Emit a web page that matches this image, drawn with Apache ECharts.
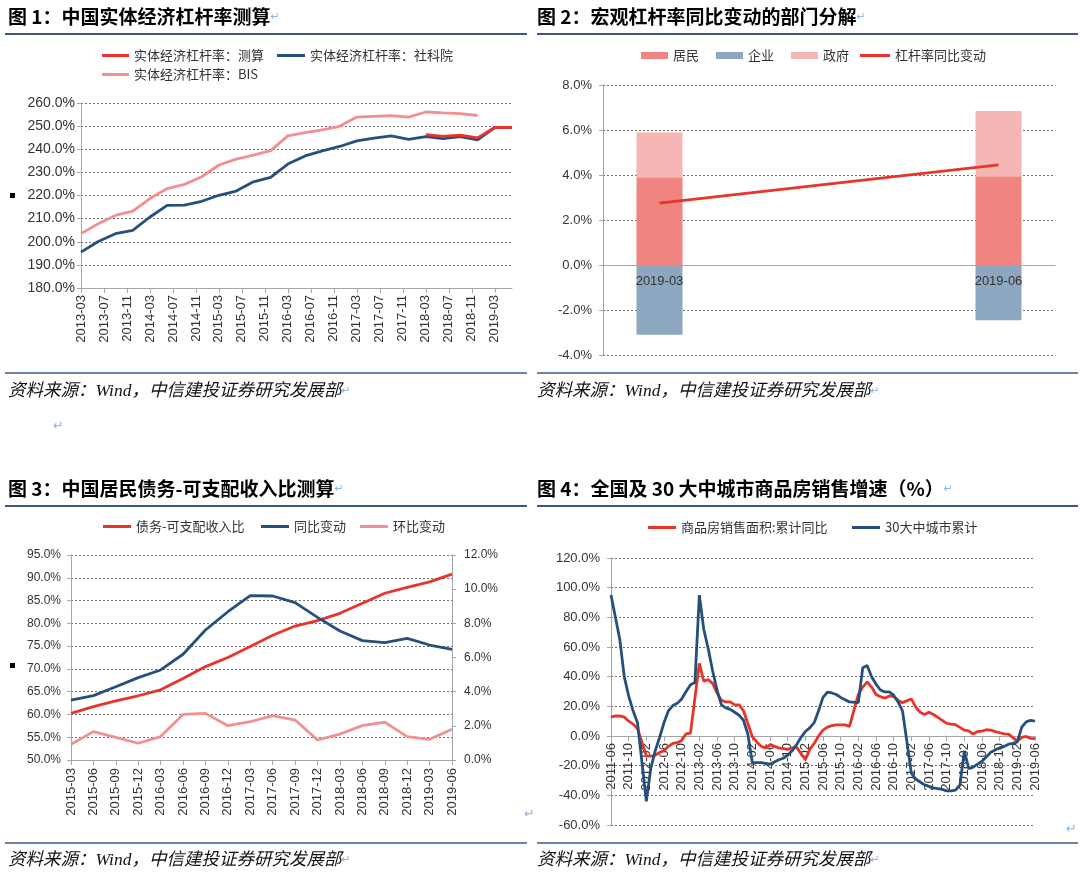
<!DOCTYPE html>
<html><head><meta charset="utf-8">
<script src="https://cdn.jsdelivr.net/npm/echarts@6/dist/echarts.min.js"></script>
<style>html,body{margin:0;padding:0;background:#fff}#c{width:1080px;height:875px}</style>
</head><body><div id="c"></div>
<script>
// ---------- Chart 1 data ----------
const c1Months = [
 '2013-03','2013-04','2013-05','2013-06','2013-07','2013-08','2013-09','2013-10','2013-11','2013-12',
 '2014-01','2014-02','2014-03','2014-04','2014-05','2014-06','2014-07','2014-08','2014-09','2014-10','2014-11','2014-12',
 '2015-01','2015-02','2015-03','2015-04','2015-05','2015-06','2015-07','2015-08','2015-09','2015-10','2015-11','2015-12',
 '2016-01','2016-02','2016-03','2016-04','2016-05','2016-06','2016-07','2016-08','2016-09','2016-10','2016-11','2016-12',
 '2017-01','2017-02','2017-03','2017-04','2017-05','2017-06','2017-07','2017-08','2017-09','2017-10','2017-11','2017-12',
 '2018-01','2018-02','2018-03','2018-04','2018-05','2018-06','2018-07','2018-08','2018-09','2018-10','2018-11','2018-12',
 '2019-01','2019-02','2019-03','2019-04','2019-05','2019-06'];
const c1Quarters = ['2013-03','2013-06','2013-09','2013-12','2014-03','2014-06','2014-09','2014-12',
 '2015-03','2015-06','2015-09','2015-12','2016-03','2016-06','2016-09','2016-12',
 '2017-03','2017-06','2017-09','2017-12','2018-03','2018-06','2018-09','2018-12','2019-03','2019-06'];
const c1Bis = [203.5,207.8,211.4,213.2,218.7,223.0,224.8,228.1,233.2,235.7,237.5,239.4,
 245.8,247.2,248.4,249.9,253.9,254.2,254.5,253.9,256.1,255.7,255.4,254.6];
const c1Cass = [195.5,200.1,203.5,204.9,210.7,215.7,215.8,217.5,220.1,221.9,225.9,227.8,
 233.6,237.1,239.3,241.2,243.6,244.8,245.8,244.3,245.5,244.6,245.5,244.1,249.4,249.5];
const c1EstQuarters = ['2018-03','2018-06','2018-09','2018-12','2019-03','2019-06'];
const c1Est = [246.3,245.6,246.1,244.9,249.4,249.5];

// ---------- Chart 2 data ----------
const c2Cats = ['2019-03','2019-04','2019-05','2019-06'];
const c2Resident = [3.9, null, null, 3.95];
const c2Corporate = [-3.1, null, null, -2.45];
const c2Government = [2.0, null, null, 2.9];
const c2Total = [2.75, null, null, 4.45];

// ---------- Chart 3 data ----------
const c3Quarters = ['2015-03','2015-06','2015-09','2015-12','2016-03','2016-06','2016-09','2016-12',
 '2017-03','2017-06','2017-09','2017-12','2018-03','2018-06','2018-09','2018-12','2019-03','2019-06'];
const c3Ratio = [60.25,61.7,63.0,64.1,65.4,67.9,70.5,72.5,74.9,77.4,79.4,80.6,82.2,84.4,86.6,87.9,89.1,90.8];
const c3Yoy = [3.51,3.77,4.29,4.82,5.27,6.19,7.61,8.68,9.62,9.60,9.21,8.35,7.55,6.99,6.87,7.12,6.73,6.48];
const c3Qoq = [0.92,1.66,1.33,0.98,1.37,2.67,2.73,2.01,2.24,2.60,2.34,1.17,1.52,2.01,2.22,1.37,1.21,1.80];

// ---------- Chart 4 data ----------
const c4Months = [
 '2011-06','2011-07','2011-08','2011-09','2011-10','2011-11','2011-12',
 '2012-01','2012-02','2012-03','2012-04','2012-05','2012-06','2012-07','2012-08','2012-09','2012-10','2012-11','2012-12',
 '2013-01','2013-02','2013-03','2013-04','2013-05','2013-06','2013-07','2013-08','2013-09','2013-10','2013-11','2013-12',
 '2014-01','2014-02','2014-03','2014-04','2014-05','2014-06','2014-07','2014-08','2014-09','2014-10','2014-11','2014-12',
 '2015-01','2015-02','2015-03','2015-04','2015-05','2015-06','2015-07','2015-08','2015-09','2015-10','2015-11','2015-12',
 '2016-01','2016-02','2016-03','2016-04','2016-05','2016-06','2016-07','2016-08','2016-09','2016-10','2016-11','2016-12',
 '2017-01','2017-02','2017-03','2017-04','2017-05','2017-06','2017-07','2017-08','2017-09','2017-10','2017-11','2017-12',
 '2018-01','2018-02','2018-03','2018-04','2018-05','2018-06','2018-07','2018-08','2018-09','2018-10','2018-11','2018-12',
 '2019-01','2019-02','2019-03','2019-04','2019-05','2019-06'];
const c4National = [
 12.8,13.5,13.5,12.8,10,8,5,
 null,-13.5,-13.5,-13,-11,-10,-7,-5,-4.5,-3,1.5,2,
 null,49,37,38,35.5,29,24,23,23,21,21,17,
 null,-0.5,-4,-7,-8,-6,-7,-8,-8.5,-9,-8,-7.5,
 null,-16,-9,-5,0,4,6,7,7.5,7.5,7.5,6.5,
 null,28,33,36.5,33,28,26.5,25.5,27,26.5,24,22.5,
 null,25,19.5,16,14.5,16,14.5,12.5,10.5,8.5,8,7.7,
 null,4,3.5,1.3,3,3.3,4.2,4,3,2.2,1.4,1.3,
 null,-3.5,-1,-0.3,-1.6,-1.8];
const c4Cities30 = [
 95,80,65,40,27,17,9,
 null,-44,-22,-10,-1,9,17,20.5,22,25,30,34.5,
 36,95,72,59,44,31,21,19,18,16,14,10.6,
 1,-18,-18,-18,-18.5,-19,-17.5,-16,-15,-13,-10,-6,
 -1,3,5.5,9,17,26,29.5,29,28,26,24.5,23,
 null,22.5,46,47.5,40,35,31,29.7,29.7,27.5,23,17,
 null,-25,-29,-31,-33,-34,-35,-35.5,-36,-37,-37,-36.5,
 -33,-10,-22,-21,-19,-17,-14,-11,-9.5,-8,-7,-5.5,
 -5,-4,6,9.5,10.5,10];

// ---------- styles ----------
const CJK = '"Noto Sans CJK SC", sans-serif';
const LAT = '"Liberation Sans", Arial, sans-serif';
const RED = '#E8342B', BLUE = '#25507C', PINK = '#F2908F';
const AXIS = '#a6a6a6', TXT = '#333', GRID = '#6e6e6e';
const pct = v => v.toFixed(1) + '%';
const pairs = (cats, vals) => cats.map((c, i) => [c, vals[i]]);

const grids = [
  {left: 81, top: 103, width: 431, height: 185},
  {left: 603, top: 85, width: 452, height: 270},
  {left: 71, top: 555, width: 381, height: 205},
  {left: 611, top: 558, width: 424, height: 267}
];
// distance (px) from grid bottom up to the zero line, for axes that cross at zero
const zeroLift = (g, min, max) => grids[g].height * (0 - min) / (max - min);

function yAx(grid, min, max, step, fs, margin, extra) {
  return Object.assign({
    type: 'value', gridIndex: grid, min: min, max: max, interval: step,
    axisLine: {show: true, lineStyle: {color: AXIS}},
    axisTick: {show: true, length: 4, lineStyle: {color: AXIS}},
    axisLabel: {formatter: pct, fontSize: fs, color: TXT, fontFamily: LAT, margin: margin},
    splitLine: {show: true, lineStyle: {color: GRID, type: [2, 2], width: 1}}
  }, extra || {});
}
function xAx(grid, cats, extra) {
  return Object.assign({
    type: 'category', gridIndex: grid, data: cats, boundaryGap: false,
    axisLine: {show: true, onZero: false, lineStyle: {color: AXIS}},
    splitLine: {show: false}
  }, extra);
}
function leg(names, left, cy, w, h, gap) {
  return {
    data: names, left: left, top: cy - 8, padding: 0, itemGap: gap || 10,
    icon: 'rect', itemWidth: w, itemHeight: h, selectedMode: false,
    textStyle: {fontFamily: CJK, fontSize: 13, color: TXT}
  };
}
function lineSeries(name, xi, yi, data, color, w) {
  return {name: name, type: 'line', xAxisIndex: xi, yAxisIndex: yi, data: data,
    symbol: 'none', showSymbol: false, connectNulls: true, color: color,
    lineStyle: {width: w || 2.8, color: color}, emphasis: {disabled: true}};
}
const arrow = {fontSize: 11, fontFamily: '"DejaVu Sans"', fill: '#8fb3e0'};
function title(x, y, t) {
  return {type: 'text', x: x, y: y, style: {
    text: '{t|' + t + '}{a|↵}', verticalAlign: 'middle',
    rich: {t: {fontSize: 19, fontWeight: 'bold', fontFamily: CJK, fill: '#000'}, a: arrow}}};
}
function footer(x, y) {
  return {type: 'text', x: x, y: y, style: {
    text: '{t|资料来源：Wind，中信建投证券研究发展部}{a|↵}', verticalAlign: 'middle',
    rich: {t: {fontSize: 17.5, fontStyle: 'italic', fontFamily: '"Liberation Serif", ' + CJK, fill: '#111'}, a: arrow}}};
}
function hline(x1, x2, y, w) {
  return {type: 'line', shape: {x1: x1, y1: y, x2: x2, y2: y}, style: {stroke: '#3b5a82', lineWidth: w}};
}
function mark(x, y) {
  return {type: 'text', x: x, y: y, style: {text: '↵', fontSize: 13, fontFamily: '"DejaVu Sans"', fill: '#8fb3e0', verticalAlign: 'middle'}};
}

const chart = echarts.init(document.getElementById('c'), null, {renderer: 'canvas'});
chart.setOption({
  animation: false,
  backgroundColor: '#fff',
  grid: grids,
  xAxis: [
    xAx(0, c1Months, {
      axisTick: {interval: 3, length: 5, lineStyle: {color: AXIS}},
      axisLabel: {interval: 3, rotate: 90, fontSize: 13, color: TXT, fontFamily: LAT, margin: 7}}),
    xAx(1, c2Cats, {boundaryGap: true, z: 10, offset: -zeroLift(1, -4, 8),
      axisTick: {show: false},
      axisLabel: {interval: 2, fontSize: 13, color: TXT, fontFamily: LAT, margin: 10}}),
    xAx(2, c3Quarters, {
      axisTick: {length: 5, lineStyle: {color: AXIS}},
      axisLabel: {interval: 0, rotate: 90, fontSize: 13, color: TXT, fontFamily: LAT, margin: 8}}),
    xAx(3, c4Months, {offset: -zeroLift(3, -60, 120),
      axisTick: {interval: 3, length: 5, lineStyle: {color: AXIS}},
      axisLabel: {interval: 3, rotate: 90, fontSize: 13, color: TXT, fontFamily: LAT, margin: 7}})
  ],
  yAxis: [
    yAx(0, 180, 260, 10, 14, 6),
    yAx(1, -4, 8, 2, 13, 11),
    yAx(2, 50, 95, 5, 12, 10),
    yAx(2, 0, 12, 2, 12, 12, {position: 'right', splitLine: {show: false}}),
    yAx(3, -60, 120, 20, 13, 11)
  ],
  legend: [
    leg(['实体经济杠杆率：测算'], 102, 57, 27, 3),
    leg(['实体经济杠杆率：社科院'], 277, 57, 28, 3),
    leg(['实体经济杠杆率：BIS'], 102, 76, 27, 3),
    leg(['居民', '企业', '政府'], 641, 57, 27, 7, 17),
    leg(['杠杆率同比变动'], 860, 57, 30, 3),
    leg(['债务-可支配收入比'], 103, 528, 28, 3),
    leg(['同比变动'], 261, 528, 28, 3),
    leg(['环比变动'], 360, 528, 28, 3),
    leg(['商品房销售面积:累计同比'], 648, 529, 28, 3),
    leg(['30大中城市累计'], 852, 529, 28, 3)
  ],
  series: [
    lineSeries('实体经济杠杆率：BIS', 0, 0, pairs(c1Quarters, c1Bis), PINK),
    lineSeries('实体经济杠杆率：社科院', 0, 0, pairs(c1Quarters, c1Cass), BLUE),
    lineSeries('实体经济杠杆率：测算', 0, 0, pairs(c1EstQuarters, c1Est), RED),

    {name: '居民', type: 'bar', stack: 'c2', xAxisIndex: 1, yAxisIndex: 1, data: c2Resident, barWidth: 46, color: '#F08481', itemStyle: {color: '#F08481'}},
    {name: '企业', type: 'bar', stack: 'c2', xAxisIndex: 1, yAxisIndex: 1, data: c2Corporate, barWidth: 46, color: '#8DA7C0', itemStyle: {color: '#8DA7C0'}},
    {name: '政府', type: 'bar', stack: 'c2', xAxisIndex: 1, yAxisIndex: 1, data: c2Government, barWidth: 46, color: '#F5B7B5', itemStyle: {color: '#F5B7B5'}},
    lineSeries('杠杆率同比变动', 1, 1, c2Total, RED, 3),

    lineSeries('债务-可支配收入比', 2, 2, c3Ratio, RED),
    lineSeries('同比变动', 2, 3, c3Yoy, BLUE),
    lineSeries('环比变动', 2, 3, c3Qoq, PINK),

    lineSeries('商品房销售面积:累计同比', 3, 4, c4National, RED),
    lineSeries('30大中城市累计', 3, 4, c4Cities30, BLUE)
  ],
  graphic: [
    title(8, 17, '图 1：中国实体经济杠杆率测算'),
    title(537, 17, '图 2：宏观杠杆率同比变动的部门分解'),
    title(8, 489, '图 3：中国居民债务-可支配收入比测算'),
    title(537, 489, '图 4：全国及 30 大中城市商品房销售增速（%）'),
    hline(5, 527, 34, 2), hline(537, 1078, 34, 2),
    hline(5, 527, 506, 2), hline(537, 1078, 506, 2),
    hline(5, 527, 373, 1.5), hline(537, 1078, 373, 1.5),
    hline(5, 527, 843, 1.5), hline(537, 1078, 843, 1.5),
    footer(8, 391), footer(537, 391), footer(8, 860), footer(537, 860),
    {type: 'rect', shape: {x: 10, y: 193, width: 5, height: 5}, style: {fill: '#000'}},
    {type: 'rect', shape: {x: 10, y: 663, width: 5, height: 5}, style: {fill: '#000'}},
    mark(53, 427), mark(524, 815), mark(1066, 830)
  ]
});
</script></body></html>
